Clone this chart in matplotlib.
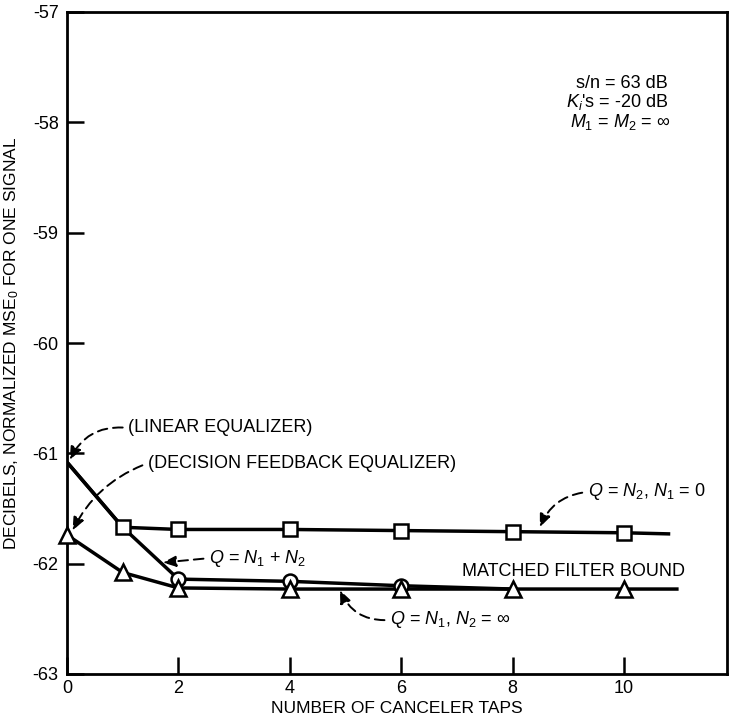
import matplotlib
matplotlib.use("Agg")
import matplotlib.pyplot as plt

plt.rcParams['font.family'] = ['Liberation Sans', 'DejaVu Sans']
plt.rcParams['mathtext.fontset'] = 'custom'
plt.rcParams['mathtext.it'] = 'Liberation Sans:italic'
plt.rcParams['mathtext.rm'] = 'Liberation Sans'

# Data
sq_x = [0, 1, 2, 4, 6, 8, 10, 10.8]
sq_y = [-61.08, -61.67, -61.69, -61.69, -61.70, -61.71, -61.72, -61.73]
sq_mark = [1, 2, 3, 4, 5, 6]

ci_x = [0, 1, 2, 4, 6, 8]
ci_y = [-61.08, -61.67, -62.14, -62.16, -62.20, -62.23]
ci_mark = [2, 3, 4]

tr_x = [0, 1, 2, 4, 6, 8, 10, 10.95]
tr_y = [-61.74, -62.08, -62.22, -62.23, -62.23, -62.23, -62.23, -62.23]
tr_mark = [0, 1, 2, 3, 4, 5, 6]

xticks = [0, 2, 4, 6, 8, 10]
yticks = [-63, -62, -61, -60, -59, -58, -57]

fig = plt.figure(figsize=(7.29, 7.23), dpi=100)
ax = fig.add_axes([67/729, (723-674)/723, 660/729, 662/723])
ax.set_xlim(0, 11.85)
ax.set_ylim(-63, -57)

lw = 2.5
ax.plot(sq_x, sq_y, color='black', lw=lw, zorder=2)
ax.plot(ci_x, ci_y, color='black', lw=lw, zorder=2)
ax.plot(tr_x, tr_y, color='black', lw=lw, zorder=2)

ax.plot([sq_x[i] for i in sq_mark], [sq_y[i] for i in sq_mark], ls='none', marker='s',
        ms=10, mfc='white', mec='black', mew=1.8, zorder=4, clip_on=False)
ax.plot([ci_x[i] for i in ci_mark], [ci_y[i] for i in ci_mark], ls='none', marker='o',
        ms=10, mfc='white', mec='black', mew=1.8, zorder=4, clip_on=False)
ax.plot([tr_x[i] for i in tr_mark], [tr_y[i] for i in tr_mark], ls='none', marker='^',
        ms=11, mfc='white', mec='black', mew=1.8, zorder=5, clip_on=False)

for s in ax.spines.values():
    s.set_linewidth(2.0)

ax.set_xticks(xticks)
ax.set_yticks(yticks)
ax.set_xticklabels([str(v) for v in xticks])
ax.set_yticklabels([str(v) for v in yticks])
ax.tick_params(direction='in', length=12, width=1.8, labelsize=13, pad=4)
ax.tick_params(axis='y', pad=6)

ax.set_xlabel('NUMBER OF CANCELER TAPS', fontsize=12.5, labelpad=3)
ax.set_ylabel('DECIBELS, NORMALIZED MSE$_\\mathrm{0}$ FOR ONE SIGNAL', fontsize=12.5, labelpad=8)

fs = 13
ap = dict(arrowstyle='-|>,head_length=0.6,head_width=0.25', color='black', lw=1.4,
          linestyle=(0, (5, 3)), shrinkA=2, shrinkB=0, relpos=(0, 0.5))

ax.annotate('(LINEAR EQUALIZER)', xy=(0.05, -61.06), xytext=(1.1, -60.77),
            fontsize=fs, va='center', ha='left',
            arrowprops=dict(ap, connectionstyle='arc3,rad=0.35'))
ax.annotate('(DECISION FEEDBACK EQUALIZER)', xy=(0.1, -61.70), xytext=(1.45, -61.09),
            fontsize=fs, va='center', ha='left',
            arrowprops=dict(ap, connectionstyle='arc3,rad=0.2'))
ax.annotate('$Q$ = $N_1$ + $N_2$', xy=(1.72, -61.99), xytext=(2.55, -61.95),
            fontsize=fs, va='center', ha='left',
            arrowprops=dict(ap, connectionstyle='arc3,rad=0.0'))
ax.annotate('$Q$ = $N_2$, $N_1$ = 0', xy=(8.49, -61.67), xytext=(9.35, -61.35),
            fontsize=fs, va='center', ha='left',
            arrowprops=dict(ap, connectionstyle='arc3,rad=0.3'))
ax.annotate('$Q$ = $N_1$, $N_2$ = $\\infty$', xy=(4.9, -62.24), xytext=(5.8, -62.51),
            fontsize=fs, va='center', ha='left',
            arrowprops=dict(ap, connectionstyle='arc3,rad=-0.35'))
ax.text(7.09, -62.07, 'MATCHED FILTER BOUND', fontsize=fs, va='center', ha='left')

ax.text(10.79, -57.65, 's/n = 63 dB', fontsize=fs, va='center', ha='right')
ax.text(10.79, -57.82, "$K_i$'s = -20 dB", fontsize=fs, va='center', ha='right')
ax.text(10.83, -58.0, '$M_1$ = $M_2$ = $\\infty$', fontsize=fs, va='center', ha='right')

fig.savefig('out.png', dpi=100)
